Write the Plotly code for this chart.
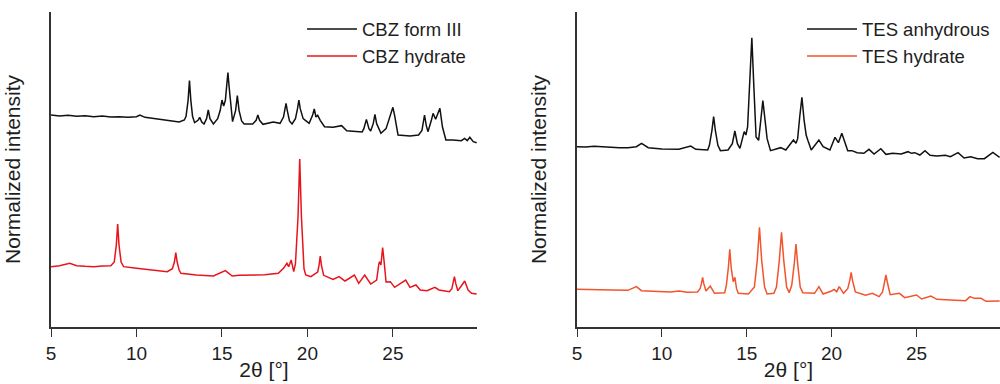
import plotly.graph_objects as go

# ---- data (arbitrary normalized intensity units, stacked) ----
cbz3_x = [5.0, 5.5, 6.0, 6.5, 7.0, 7.5, 8.0, 8.5, 9.0, 9.5, 10.0, 10.2, 10.5, 11.0, 11.5, 12.0, 12.5, 12.8,
          12.9, 13.02, 13.1, 13.18, 13.28, 13.4, 13.6, 13.7, 13.82, 13.95, 14.1, 14.2, 14.3, 14.5, 14.75,
          14.9, 15.0, 15.1, 15.2, 15.28, 15.35, 15.42, 15.52, 15.62, 15.8, 15.9, 16.0, 16.15, 16.3, 16.8,
          17.0, 17.1, 17.2, 17.4, 18.0, 18.4, 18.6, 18.68, 18.75, 18.82, 18.95, 19.1, 19.3, 19.42, 19.5,
          19.58, 19.75, 19.9, 20.1, 20.3, 20.4, 20.5, 20.6, 20.75, 21.0, 21.5, 22.0, 22.3, 22.8, 23.2, 23.3,
          23.45, 23.6, 23.7, 23.85, 23.95, 24.05, 24.3, 24.6, 24.75, 24.9, 25.0, 25.1, 25.3, 26.0, 26.5,
          26.7, 26.85, 26.95, 27.05, 27.25, 27.35, 27.5, 27.65, 27.75, 27.9, 28.1, 28.5, 29.0, 29.2, 29.35,
          29.5, 29.7, 29.9]
cbz3_y = [636, 633, 635, 632, 634, 631, 633, 630, 631, 629, 631, 636, 629, 626, 621, 618, 615, 621,
          632, 680, 739, 680, 632, 613, 620, 629, 615, 609, 625, 651, 625, 609, 625,
          650, 681, 663, 680, 725, 763, 720, 660, 616, 650, 694, 650, 618, 609, 609,
          620, 636, 620, 608, 615, 611, 630, 650, 671, 650, 618, 609, 625, 655, 681,
          655, 625, 619, 611, 635, 654, 630, 635, 620, 601, 599, 604, 589, 586, 585, 595,
          623, 595, 588, 610, 638, 610, 581, 595, 619, 640, 659, 635, 576, 573, 576,
          590, 636, 605, 586, 620, 641, 623, 640, 656, 600, 561, 561, 559, 566, 559,
          569, 556, 553]

cbzh_x = [5.0, 5.5, 6.1, 6.5, 7.0, 7.5, 8.0, 8.5, 8.7, 8.82, 8.9, 8.98, 9.1, 9.25, 10.0, 11.0, 11.8, 12.1,
          12.22, 12.3, 12.38, 12.5, 12.6, 13.5, 14.5, 15.2, 15.6, 16.0, 16.5, 17.0, 17.5, 18.3, 18.6, 18.8,
          18.9, 19.05, 19.2, 19.3, 19.45, 19.55, 19.65, 19.8, 19.9, 20.2, 20.6, 20.68, 20.75, 20.82, 20.95,
          21.5, 21.85, 22.2, 22.75, 23.0, 23.35, 23.7, 24.05, 24.18, 24.22, 24.3, 24.4, 24.48, 24.6, 24.85,
          25.1, 25.75, 26.0, 26.35, 26.6, 27.0, 27.45, 27.7, 28.3, 28.45, 28.53, 28.6, 28.68, 28.8, 29.0,
          29.2, 29.4, 29.6, 29.9]
cbzh_y = [181, 184, 191, 184, 182, 181, 183, 184, 195, 245, 309, 245, 195, 181, 176, 171, 166, 175,
          195, 223, 195, 170, 161, 156, 153, 169, 153, 155, 156, 155, 157, 161, 176, 191,
          181, 201, 166, 190, 330, 504, 330, 175, 156, 151, 165, 185, 213, 185, 155,
          143, 151, 138, 156, 131, 156, 129, 141, 190, 196, 186, 238, 200, 135, 136,
          119, 141, 119, 126, 111, 109, 119, 111, 106, 115, 130, 151, 130, 109, 123,
          138, 111, 101, 99]

tesa_x = [5.0, 5.5, 6.0, 6.5, 7.0, 7.5, 8.0, 8.5, 8.8, 9.2, 10.0, 11.0, 11.7, 12.0, 12.7, 12.8, 12.95, 13.05,
          13.15, 13.3, 13.45, 13.9, 14.15, 14.3, 14.45, 14.6, 14.85, 14.95, 15.05, 15.18, 15.3, 15.42, 15.55,
          15.7, 15.82, 15.95, 16.08, 16.2, 16.4, 17.0, 17.3, 17.75, 17.9, 18.0, 18.12, 18.25, 18.38, 18.5,
          18.6, 18.8, 19.25, 19.5, 19.9, 20.2, 20.4, 20.6, 20.95, 21.2, 21.5, 21.9, 22.2, 22.5, 22.9, 23.2,
          23.6, 24.1, 24.5, 24.7, 24.9, 25.2, 25.5, 25.8, 26.2, 26.7, 27.0, 27.45, 27.8, 28.2, 28.6, 29.0,
          29.5, 29.9]
tesa_y = [541, 540, 542, 540, 539, 538, 538, 541, 551, 538, 534, 533, 543, 533, 531, 545, 590, 631,
          590, 545, 529, 531, 550, 588, 550, 536, 586, 576, 600, 720, 868, 720, 570,
          560, 620, 679, 620, 565, 529, 538, 531, 561, 551, 565, 630, 689, 620, 576,
          560, 531, 561, 541, 531, 569, 553, 581, 529, 529, 523, 521, 533, 519, 535, 518,
          521, 519, 526, 521, 523, 516, 529, 515, 513, 515, 511, 523, 507, 511, 505, 505,
          524, 509]

tesh_x = [5.0, 6.0, 7.0, 8.0, 8.5, 8.8, 9.5, 10.5, 11.0, 11.5, 12.1, 12.25, 12.33, 12.4, 12.47, 12.6, 12.85,
          13.1, 13.7, 13.8, 13.92, 14.0, 14.08, 14.2, 14.3, 14.4, 14.5, 15.1, 15.45, 15.62, 15.75, 15.88,
          16.05, 16.2, 16.6, 16.75, 16.92, 17.05, 17.18, 17.35, 17.5, 17.65, 17.8, 17.9, 18.0, 18.15, 18.3,
          18.7, 19.0, 19.25, 19.5, 20.0, 20.15, 20.3, 20.45, 20.7, 20.95, 21.07, 21.15, 21.23, 21.4, 22.0,
          22.4, 22.8, 23.0, 23.12, 23.2, 23.28, 23.45, 24.0, 24.3, 25.0, 25.3, 25.85, 26.2, 27.0, 27.9,
          28.15, 28.4, 28.8, 29.1, 29.9]
tesh_y = [113, 113, 111, 110, 121, 109, 108, 105, 108, 104, 105, 115, 130, 149, 130, 108, 123,
          101, 103, 125, 180, 233, 180, 136, 149, 115, 101, 99, 120, 200, 299, 200,
          120, 99, 101, 120, 200, 284, 200, 120, 103, 125, 190, 249, 190, 120, 103,
          103, 101, 121, 99, 108, 113, 106, 121, 101, 115, 140, 164, 140, 105, 95,
          101, 91, 105, 135, 156, 135, 97, 101, 88, 96, 84, 93, 83, 81, 79,
          91, 86, 86, 77, 78]

x_ticks = [5, 10, 15, 20, 25]

FONT = "Liberation Sans, Arial, sans-serif"
BLACK = "#111111"
RED = "#e8141c"
ORANGE = "#f2542d"
TXT = "#1e1e1e"

fig = go.Figure()
fig.add_trace(go.Scatter(x=cbz3_x, y=cbz3_y, mode="lines", name="CBZ form III",
                         line=dict(color=BLACK, width=1.5), xaxis="x", yaxis="y", legend="legend"))
fig.add_trace(go.Scatter(x=cbzh_x, y=cbzh_y, mode="lines", name="CBZ hydrate",
                         line=dict(color=RED, width=1.5), xaxis="x", yaxis="y", legend="legend"))
fig.add_trace(go.Scatter(x=tesa_x, y=tesa_y, mode="lines", name="TES anhydrous",
                         line=dict(color=BLACK, width=1.5), xaxis="x2", yaxis="y2", legend="legend2"))
fig.add_trace(go.Scatter(x=tesh_x, y=tesh_y, mode="lines", name="TES hydrate",
                         line=dict(color=ORANGE, width=1.5), xaxis="x2", yaxis="y2", legend="legend2"))

W, H = 1000, 384
ml, mr, mt, mb = 51, 0, 12, 57
pw = W - ml - mr
d1 = [0, (477 - ml) / pw]
d2 = [(577 - ml) / pw, 1]

xcommon = dict(range=[5, 29.92], tickvals=x_ticks, ticks="outside", ticklen=8, tickwidth=1,
               tickcolor="#333333", showline=True, linecolor="#333333", linewidth=1.5,
               showgrid=False, zeroline=False, automargin=False,
               tickfont=dict(family=FONT, size=19, color=TXT),
               title=dict(text="2θ [°]", font=dict(family=FONT, size=21, color=TXT), standoff=0))
ycommon = dict(range=[0, 945], showticklabels=False, ticks="", showline=True, linecolor="#333333",
               linewidth=1.5, showgrid=False, zeroline=False, automargin=False,
               title=dict(text="Normalized intensity", font=dict(family=FONT, size=21, color=TXT),
                          standoff=23))

legcommon = dict(font=dict(family=FONT, size=18.5, color=TXT), bgcolor="rgba(0,0,0,0)",
                 xanchor="left", yanchor="top", tracegroupgap=0, itemwidth=50)

fig.update_layout(
    width=W, height=H,
    margin=dict(l=ml, r=mr, t=mt, b=mb, autoexpand=False),
    paper_bgcolor="white", plot_bgcolor="white",
    xaxis=dict(domain=d1, anchor="y", **xcommon),
    yaxis=dict(domain=[0, 1], anchor="x", **ycommon),
    xaxis2=dict(domain=d2, anchor="y2", **xcommon),
    yaxis2=dict(domain=[0, 1], anchor="x2", **ycommon),
    legend=dict(x=(302 - ml) / pw, y=1.005, **legcommon),
    legend2=dict(x=(802 - ml) / pw, y=1.005, **legcommon),
    showlegend=True,
)

fig.write_html("out.html")
